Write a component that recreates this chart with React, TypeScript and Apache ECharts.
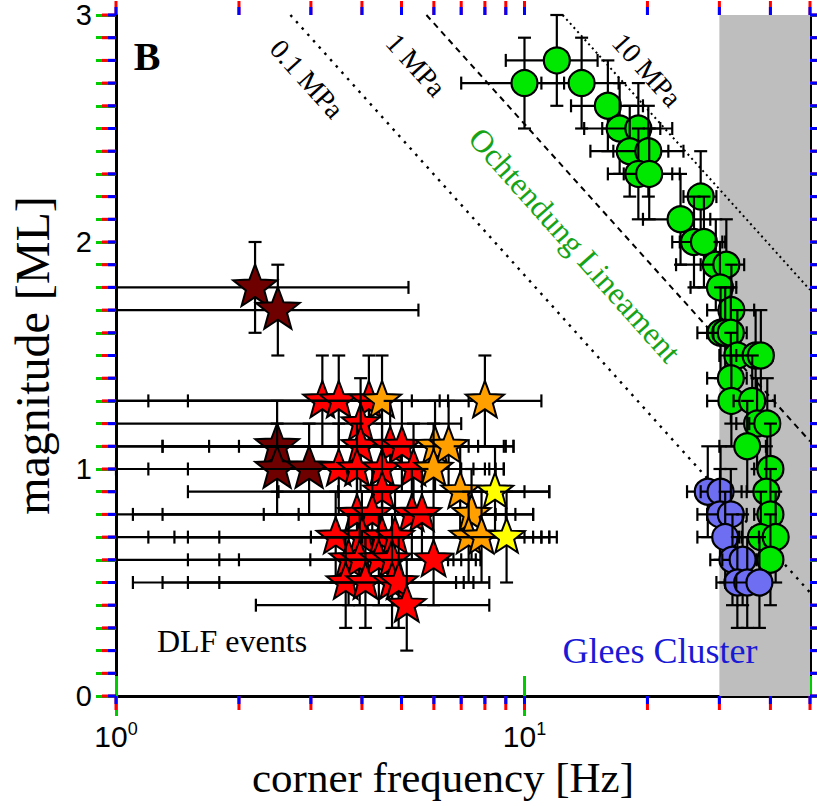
import React, { useEffect, useRef } from 'react';
import * as echarts from 'echarts';

const SERIF = '"Liberation Serif", "Times New Roman", serif';
const SANS = '"Liberation Sans", Arial, sans-serif';

// ---- Ochtendung Lineament events (green circles) ----
const ochF = [10.0, 12.0, 13.8, 16.0, 17.1, 19.0, 18.1, 20.1, 19.0, 20.2, 27.0, 24.1, 26.0, 27.5, 29.4, 31.2, 30.1, 32.1, 30.2, 31.0, 32.0, 33.2, 36.8, 37.9, 32.0, 32.1, 36.1, 37.1, 39.3, 35.1, 40.0, 39.1, 40.0, 37.9, 41.2, 40.0];
const ochM = [2.7, 2.8, 2.7, 2.6, 2.5, 2.5, 2.4, 2.4, 2.3, 2.3, 2.2, 2.1, 2.0, 2.0, 1.9, 1.9, 1.8, 1.7, 1.6, 1.6, 1.6, 1.5, 1.5, 1.5, 1.4, 1.3, 1.3, 1.2, 1.2, 1.1, 1.0, 0.9, 0.8, 0.7, 0.7, 0.6];
const ochFLo = [7.0, 9.0, 11.0, 13.0, 14.0, 15.5, 14.5, 16.5, 16.0, 17.5, 24.5, 19.5, 23.0, 24.0, 23.5, 27.0, 25.5, 28.0, 26.5, 28.0, 29.0, 30.0, 32.0, 33.0, 28.0, 28.0, 32.5, 33.0, 35.5, 30.0, 36.5, 35.0, 36.5, 33.5, 37.5, 36.5];
const ochFHi = [12.5, 15.1, 17.0, 19.5, 21.5, 23.0, 22.5, 24.5, 23.0, 24.0, 29.5, 28.5, 30.5, 31.0, 33.0, 34.5, 33.0, 36.5, 33.0, 34.0, 35.0, 36.0, 40.0, 40.5, 35.0, 35.5, 41.0, 40.5, 42.0, 39.0, 42.5, 41.5, 42.5, 40.5, 43.5, 42.5];
const ochMErr = [0.2, 0.2, 0.2, 0.2, 0.2, 0.2, 0.2, 0.2, 0.2, 0.2, 0.2, 0.2, 0.2, 0.2, 0.2, 0.2, 0.2, 0.2, 0.2, 0.2, 0.2, 0.2, 0.2, 0.2, 0.2, 0.2, 0.2, 0.2, 0.2, 0.2, 0.2, 0.2, 0.2, 0.2, 0.2, 0.2];

// ---- Glees Cluster events (blue circles) ----
const gleesF = [28.1, 30.2, 30.1, 32.0, 31.0, 32.3, 34.2, 33.2, 35.1, 37.6];
const gleesM = [0.9, 0.9, 0.8, 0.8, 0.7, 0.6, 0.6, 0.5, 0.5, 0.5];
const gleesFLo = [25.0, 27.0, 26.5, 28.0, 26.5, 28.5, 30.5, 29.5, 31.0, 33.0];
const gleesFHi = [31.0, 34.0, 33.5, 35.0, 34.0, 35.0, 37.0, 36.0, 38.0, 40.0];
const gleesMErr = [0.2, 0.2, 0.2, 0.2, 0.2, 0.2, 0.2, 0.2, 0.2, 0.2];

// ---- DLF events (stars); class: 0 dark red, 1 red, 2 orange, 3 yellow ----
const dlfF = [2.19, 2.49, 3.2, 3.51, 4.16, 4.48, 8.0, 3.97, 2.48, 3.97, 4.69, 5.01, 6.04, 6.52, 2.48, 2.97, 3.51, 3.89, 4.48, 5.35, 5.99, 4.48, 6.96, 8.47, 3.89, 4.24, 5.30, 5.61, 7.42, 3.45, 4.0, 4.48, 4.82, 7.3, 7.85, 9.04, 3.71, 3.95, 4.4, 4.74, 5.99, 3.65, 4.08, 4.74, 4.92, 5.15];
const dlfM = [1.8, 1.7, 1.3, 1.3, 1.3, 1.3, 1.3, 1.2, 1.1, 1.1, 1.1, 1.1, 1.1, 1.1, 1.0, 1.0, 1.0, 1.0, 1.0, 1.0, 1.0, 0.9, 0.9, 0.9, 0.8, 0.8, 0.8, 0.8, 0.8, 0.7, 0.7, 0.7, 0.7, 0.7, 0.7, 0.7, 0.6, 0.6, 0.6, 0.6, 0.6, 0.5, 0.5, 0.5, 0.5, 0.4];
const dlfFLo = [0.5, 0.5, 0.6, 1.2, 1.5, 0.8, 5.3, 0.6, 1.3, 0.5, 1.69, 2.0, 0.7, 1.3, 0.5, 0.5, 1.5, 0.6, 0.9, 1.0, 1.2, 1.5, 2.5, 3.5, 1.1, 0.6, 1.3, 2.3, 2.8, 1.2, 1.39, 1.5, 1.79, 0.6, 3.0, 4.0, 1.5, 1.79, 2.0, 2.99, 0.7, 1.1, 1.3, 1.5, 1.79, 2.2];
const dlfFHi = [5.2, 5.5, 6.2, 6.5, 7.3, 7.7, 11.0, 7.0, 9.0, 9.4, 7.3, 7.7, 8.9, 9.4, 8.9, 7.5, 8.0, 7.0, 8.2, 8.9, 8.5, 10.0, 11.5, 11.5, 9.0, 10.5, 8.5, 9.5, 10.5, 10.5, 11.0, 11.5, 10.0, 11.5, 11.0, 12.0, 6.5, 7.0, 6.7, 7.8, 7.6, 6.8, 7.1, 7.5, 8.2, 8.2];
const dlfMErr = [0.2, 0.2, 0.2, 0.2, 0.2, 0.2, 0.2, 0.2, 0.2, 0.2, 0.2, 0.2, 0.2, 0.2, 0.2, 0.2, 0.2, 0.2, 0.2, 0.2, 0.2, 0.2, 0.2, 0.2, 0.2, 0.2, 0.2, 0.2, 0.2, 0.2, 0.2, 0.2, 0.2, 0.2, 0.2, 0.2, 0.2, 0.2, 0.2, 0.2, 0.2, 0.2, 0.2, 0.2, 0.2, 0.2];
const dlfClass = [0, 0, 1, 1, 1, 2, 2, 1, 0, 1, 1, 1, 2, 2, 0, 0, 1, 1, 1, 1, 2, 1, 2, 3, 1, 1, 1, 1, 2, 1, 1, 1, 1, 2, 2, 3, 1, 1, 1, 1, 1, 1, 1, 1, 1, 1];
const dlfColors = ['#6e0000', '#ff0000', '#ffa000', '#ffff00'];
const dlfSizes = [23, 20, 20, 19];

// ---- constant stress-drop lines: endpoints [f, ML] where they cross the frame ----
const stressNames = ['0.1 MPa', '1 MPa', '10 MPa'];
const stressLineStart = [[2.673, 3.0], [5.754, 3.0], [12.4, 3.0]];
const stressLineEnd = [[50, 0.456], [50, 1.122], [50, 1.789]];

// ---- shaded frequency band ----
const bandRange = [30, 50];

// ---- axes ----
const xMin = 1, xMax = 50;
const yMin = 0, yMax = 3;
const xMajorTicks = [1, 10, 50];
const xMinorTicks = [2, 3, 4, 5, 6, 7, 8, 9, 20, 30, 40];
const yMajorTicks = [0, 1, 2, 3];
const yMinorTicks = [0.1, 0.2, 0.3, 0.4, 0.5, 0.6, 0.7, 0.8, 0.9, 1.1, 1.2, 1.3, 1.4, 1.5, 1.6, 1.7, 1.8, 1.9, 2.1, 2.2, 2.3, 2.4, 2.5, 2.6, 2.7, 2.8, 2.9];

function starPathData(): string {
  let d = '';
  for (let i = 0; i < 10; i++) {
    const a = -Math.PI / 2 + (i * Math.PI) / 5;
    const r = i % 2 === 0 ? 50 : 21;
    const x = 50 + r * Math.cos(a);
    const y = 50 + r * Math.sin(a);
    d += (i === 0 ? 'M' : 'L') + x.toFixed(3) + ' ' + y.toFixed(3) + ' ';
  }
  return d + 'Z';
}
const STAR = starPathData();

function pointRenderer(kind: 'circle' | 'star', fill: string) {
  return (params: any, api: any) => {
    const f = api.value(0), m = api.value(1), lo = api.value(2), hi = api.value(3), me = api.value(4), cls = api.value(5);
    const loC = Math.max(lo, xMin);
    const c = api.coord([f, m]);
    const l = api.coord([loC, m]);
    const r = api.coord([hi, m]);
    const t = api.coord([f, m + me]);
    const b = api.coord([f, m - me]);
    const cap = 6.5;
    const ls = { stroke: '#000', lineWidth: 2.2 };
    const children: any[] = [
      { type: 'line', shape: { x1: l[0], y1: c[1], x2: r[0], y2: c[1] }, style: ls },
      { type: 'line', shape: { x1: r[0], y1: c[1] - cap, x2: r[0], y2: c[1] + cap }, style: ls },
      { type: 'line', shape: { x1: c[0], y1: t[1], x2: c[0], y2: b[1] }, style: ls },
      { type: 'line', shape: { x1: c[0] - cap, y1: t[1], x2: c[0] + cap, y2: t[1] }, style: ls },
      { type: 'line', shape: { x1: c[0] - cap, y1: b[1], x2: c[0] + cap, y2: b[1] }, style: ls },
    ];
    if (lo >= xMin) {
      children.push({ type: 'line', shape: { x1: l[0], y1: c[1] - cap, x2: l[0], y2: c[1] + cap }, style: ls });
    }
    if (kind === 'circle') {
      children.push({ type: 'circle', shape: { cx: c[0], cy: c[1], r: 13 }, style: { fill, stroke: '#000', lineWidth: 2.2 } });
    } else {
      const R = dlfSizes[cls];
      const w = 2 * R * 0.951;
      const h = R * 1.809;
      children.push({
        type: 'path',
        shape: { pathData: STAR, x: c[0] - w / 2, y: c[1] - R, width: w, height: h },
        style: { fill: dlfColors[cls], stroke: '#000', lineWidth: 2, lineJoin: 'miter' },
      });
    }
    return { type: 'group', children };
  };
}

export default function App() {
  const ref = useRef<HTMLDivElement>(null);
  useEffect(() => {
    if (!ref.current) return;
    const chart = echarts.init(ref.current, null, { renderer: 'svg' });

    const ochData = ochF.map((f, i) => [f, ochM[i], ochFLo[i], ochFHi[i], ochMErr[i], 0]);
    const gleesData = gleesF.map((f, i) => [f, gleesM[i], gleesFLo[i], gleesFHi[i], gleesMErr[i], 0]);
    const dlfData = dlfF.map((f, i) => [f, dlfM[i], dlfFLo[i], dlfFHi[i], dlfMErr[i], dlfClass[i]]);

    const axisLineStyle = { color: '#000', width: 3 };
    const nativeTick = { color: '#00cc00', width: 3 };
    const dashStyles: any[] = [
      { type: [2.5, 6], width: 2.4, cap: 'butt' },
      { type: [6, 5], width: 2, cap: 'butt' },
      { type: [2, 3.5], width: 2, cap: 'butt' },
    ];

    const texts: any[] = [
      { type: 'text', x: 147, y: 56, z: 10, style: { text: 'B', font: `bold 40px ${SERIF}`, fill: '#000', align: 'center', verticalAlign: 'middle' } },
      { type: 'text', x: 307, y: 79, rotation: -0.838, z: 10, style: { text: stressNames[0], font: `28px ${SERIF}`, fill: '#000', align: 'center', verticalAlign: 'middle' } },
      { type: 'text', x: 416, y: 65, rotation: -0.838, z: 10, style: { text: stressNames[1], font: `28px ${SERIF}`, fill: '#000', align: 'center', verticalAlign: 'middle' } },
      { type: 'text', x: 647, y: 70, rotation: -0.838, z: 10, style: { text: stressNames[2], font: `28px ${SERIF}`, fill: '#000', align: 'center', verticalAlign: 'middle' } },
      { type: 'text', x: 575, y: 245, rotation: -0.845, z: 10, style: { text: 'Ochtendung Lineament', font: `32px ${SERIF}`, fill: '#17a317', align: 'center', verticalAlign: 'middle' } },
      { type: 'text', x: 232, y: 641, z: 10, style: { text: 'DLF events', font: `32px ${SERIF}`, fill: '#000', align: 'center', verticalAlign: 'middle' } },
      { type: 'text', x: 660, y: 651, z: 10, style: { text: 'Glees Cluster', font: `36px ${SERIF}`, fill: '#1a1ad6', align: 'center', verticalAlign: 'middle' } },
    ];

    const tickData: number[][] = [
      ...xMajorTicks.map((v) => [v, 1, 14]),
      ...xMinorTicks.map((v) => [v, 1, 14]),
      ...yMajorTicks.map((v) => [v, 0, 14]),
      ...yMinorTicks.map((v) => [v, 0, 14]),
    ];

    const option: any = {
      animation: false,
      grid: { left: 113, right: 7, top: 15, bottom: 110, containLabel: false },
      xAxis: [
        {
          type: 'log', logBase: 10, min: xMin, max: xMax, position: 'bottom',
          name: 'corner frequency [Hz]', nameLocation: 'middle', nameGap: 54,
          nameTextStyle: { fontFamily: SERIF, fontSize: 43, color: '#000', padding: [0, 40, 0, 0] },
          axisLine: { show: true, lineStyle: axisLineStyle },
          axisTick: { show: true, length: 20, lineStyle: nativeTick },
          splitLine: { show: false },
          axisLabel: {
            margin: 24, showMaxLabel: false,
            formatter: (v: number) => {
              const lg = Math.log10(v);
              const e = Math.round(lg);
              if (Math.abs(lg - e) > 1e-6) return '';
              return `{b|10}{s|${e}}`;
            },
            rich: {
              b: { fontFamily: SANS, fontSize: 30, color: '#000' },
              s: { fontFamily: SANS, fontSize: 18, color: '#000', verticalAlign: 'top', padding: [0, 0, 14, 0] },
            },
          },
        },
        {
          type: 'log', logBase: 10, min: xMin, max: xMax, position: 'top',
          axisLine: { show: true, lineStyle: axisLineStyle },
          axisTick: { show: true, length: 20, lineStyle: nativeTick },
          axisLabel: { show: false },
          splitLine: { show: false },
        },
      ],
      yAxis: [
        {
          type: 'value', min: yMin, max: yMax, interval: 1, position: 'left',
          name: 'magnitude [ML]', nameLocation: 'middle', nameGap: 60, nameRotate: 90,
          nameTextStyle: { fontFamily: SERIF, fontSize: 48, color: '#000' },
          axisLine: { show: true, lineStyle: axisLineStyle },
          axisTick: { show: true, length: 20, lineStyle: nativeTick },
          minorTick: { show: true, splitNumber: 10, length: 20, lineStyle: nativeTick },
          splitLine: { show: false },
          axisLabel: { margin: 24, fontFamily: SANS, fontSize: 29, color: '#000' },
        },
        {
          type: 'value', min: yMin, max: yMax, interval: 1, position: 'right',
          axisLine: { show: true, lineStyle: axisLineStyle },
          axisTick: { show: true, length: 20, lineStyle: nativeTick },
          minorTick: { show: true, splitNumber: 10, length: 20, lineStyle: nativeTick },
          splitLine: { show: false },
          axisLabel: { show: false },
        },
      ],
      series: [
        {
          type: 'custom', name: 'band', z: 1,
          data: [[bandRange[0], bandRange[1]]],
          encode: { x: [0, 1] },
          renderItem: (params: any, api: any) => {
            const a = api.coord([api.value(0), yMax]);
            const b = api.coord([api.value(1), yMin]);
            return { type: 'rect', shape: { x: a[0], y: a[1], width: b[0] - a[0], height: b[1] - a[1] }, style: { fill: '#bebebe' } };
          },
        },
        ...stressNames.map((nm, k) => ({
          type: 'line', name: nm, z: 2, clip: false, symbol: 'none', silent: true,
          data: [stressLineStart[k], stressLineEnd[k]],
          lineStyle: { color: '#000', ...dashStyles[k] },
        })),
        {
          type: 'custom', name: 'Ochtendung Lineament', z: 3,
          data: ochData, encode: { x: 0, y: 1 },
          renderItem: pointRenderer('circle', '#00e800'),
        },
        {
          type: 'custom', name: 'Glees Cluster', z: 3,
          data: gleesData, encode: { x: 0, y: 1 },
          renderItem: pointRenderer('circle', '#6e6ef2'),
        },
        {
          type: 'custom', name: 'DLF events', z: 3,
          data: dlfData, encode: { x: 0, y: 1 },
          renderItem: pointRenderer('star', '#ff0000'),
        },
        {
          type: 'custom', name: 'frame ticks', z: 5, clip: false,
          data: tickData, encode: { x: 0 },
          renderItem: (params: any, api: any) => {
            const v = api.value(0), isX = api.value(1), len = api.value(2);
            const st = { fill: '#ff0000' };
            if (isX === 1) {
              const b = api.coord([v, yMin]);
              const t = api.coord([v, yMax]);
              return {
                type: 'group',
                children: [
                  { type: 'rect', shape: { x: b[0] - 1.5, y: b[1], width: 3, height: len }, style: st },
                  { type: 'rect', shape: { x: t[0] - 1.5, y: t[1] - len, width: 3, height: len }, style: st },
                ],
              };
            }
            const l = api.coord([xMin, v]);
            const r = api.coord([xMax, v]);
            return {
              type: 'group',
              children: [
                { type: 'rect', shape: { x: l[0] - len, y: l[1] - 1.5, width: len, height: 3 }, style: st },
                { type: 'rect', shape: { x: r[0], y: r[1] - 1.5, width: len, height: 3 }, style: st },
              ],
            };
          },
        },
      ],
      graphic: texts,
    };
    chart.setOption(option);

    const toPx = (p: number[]) => chart.convertToPixel({ xAxisIndex: 0, yAxisIndex: 0 }, p) as number[];
    const tw = 3;
    const mk = (x: number, y: number, w: number, h: number) => ({
      type: 'rect', z: 100, shape: { x, y, width: w, height: h }, style: { fill: '#0000ff' },
    });
    const len = 8;
    const xT = [...xMajorTicks, ...xMinorTicks];
    const yT = [...yMajorTicks, ...yMinorTicks];
    const bottomTicks = xT.map((v) => { const p = toPx([v, yMin]); return mk(p[0] - tw / 2, p[1], tw, len); });
    const topTicks = xT.map((v) => { const p = toPx([v, yMax]); return mk(p[0] - tw / 2, p[1] - len, tw, len); });
    const leftTicks = yT.map((v) => { const p = toPx([xMin, v]); return mk(p[0] - len, p[1] - tw / 2, len, tw); });
    const rightTicks = yT.map((v) => { const p = toPx([xMax, v]); return mk(p[0], p[1] - tw / 2, len, tw); });
    chart.setOption({ graphic: [...texts, ...bottomTicks, ...topTicks, ...leftTicks, ...rightTicks] });

    return () => chart.dispose();
  }, []);
  return <div ref={ref} style={{ position: 'absolute', left: 0, top: 0, width: 817, height: 806, background: '#fff' }} />;
}
